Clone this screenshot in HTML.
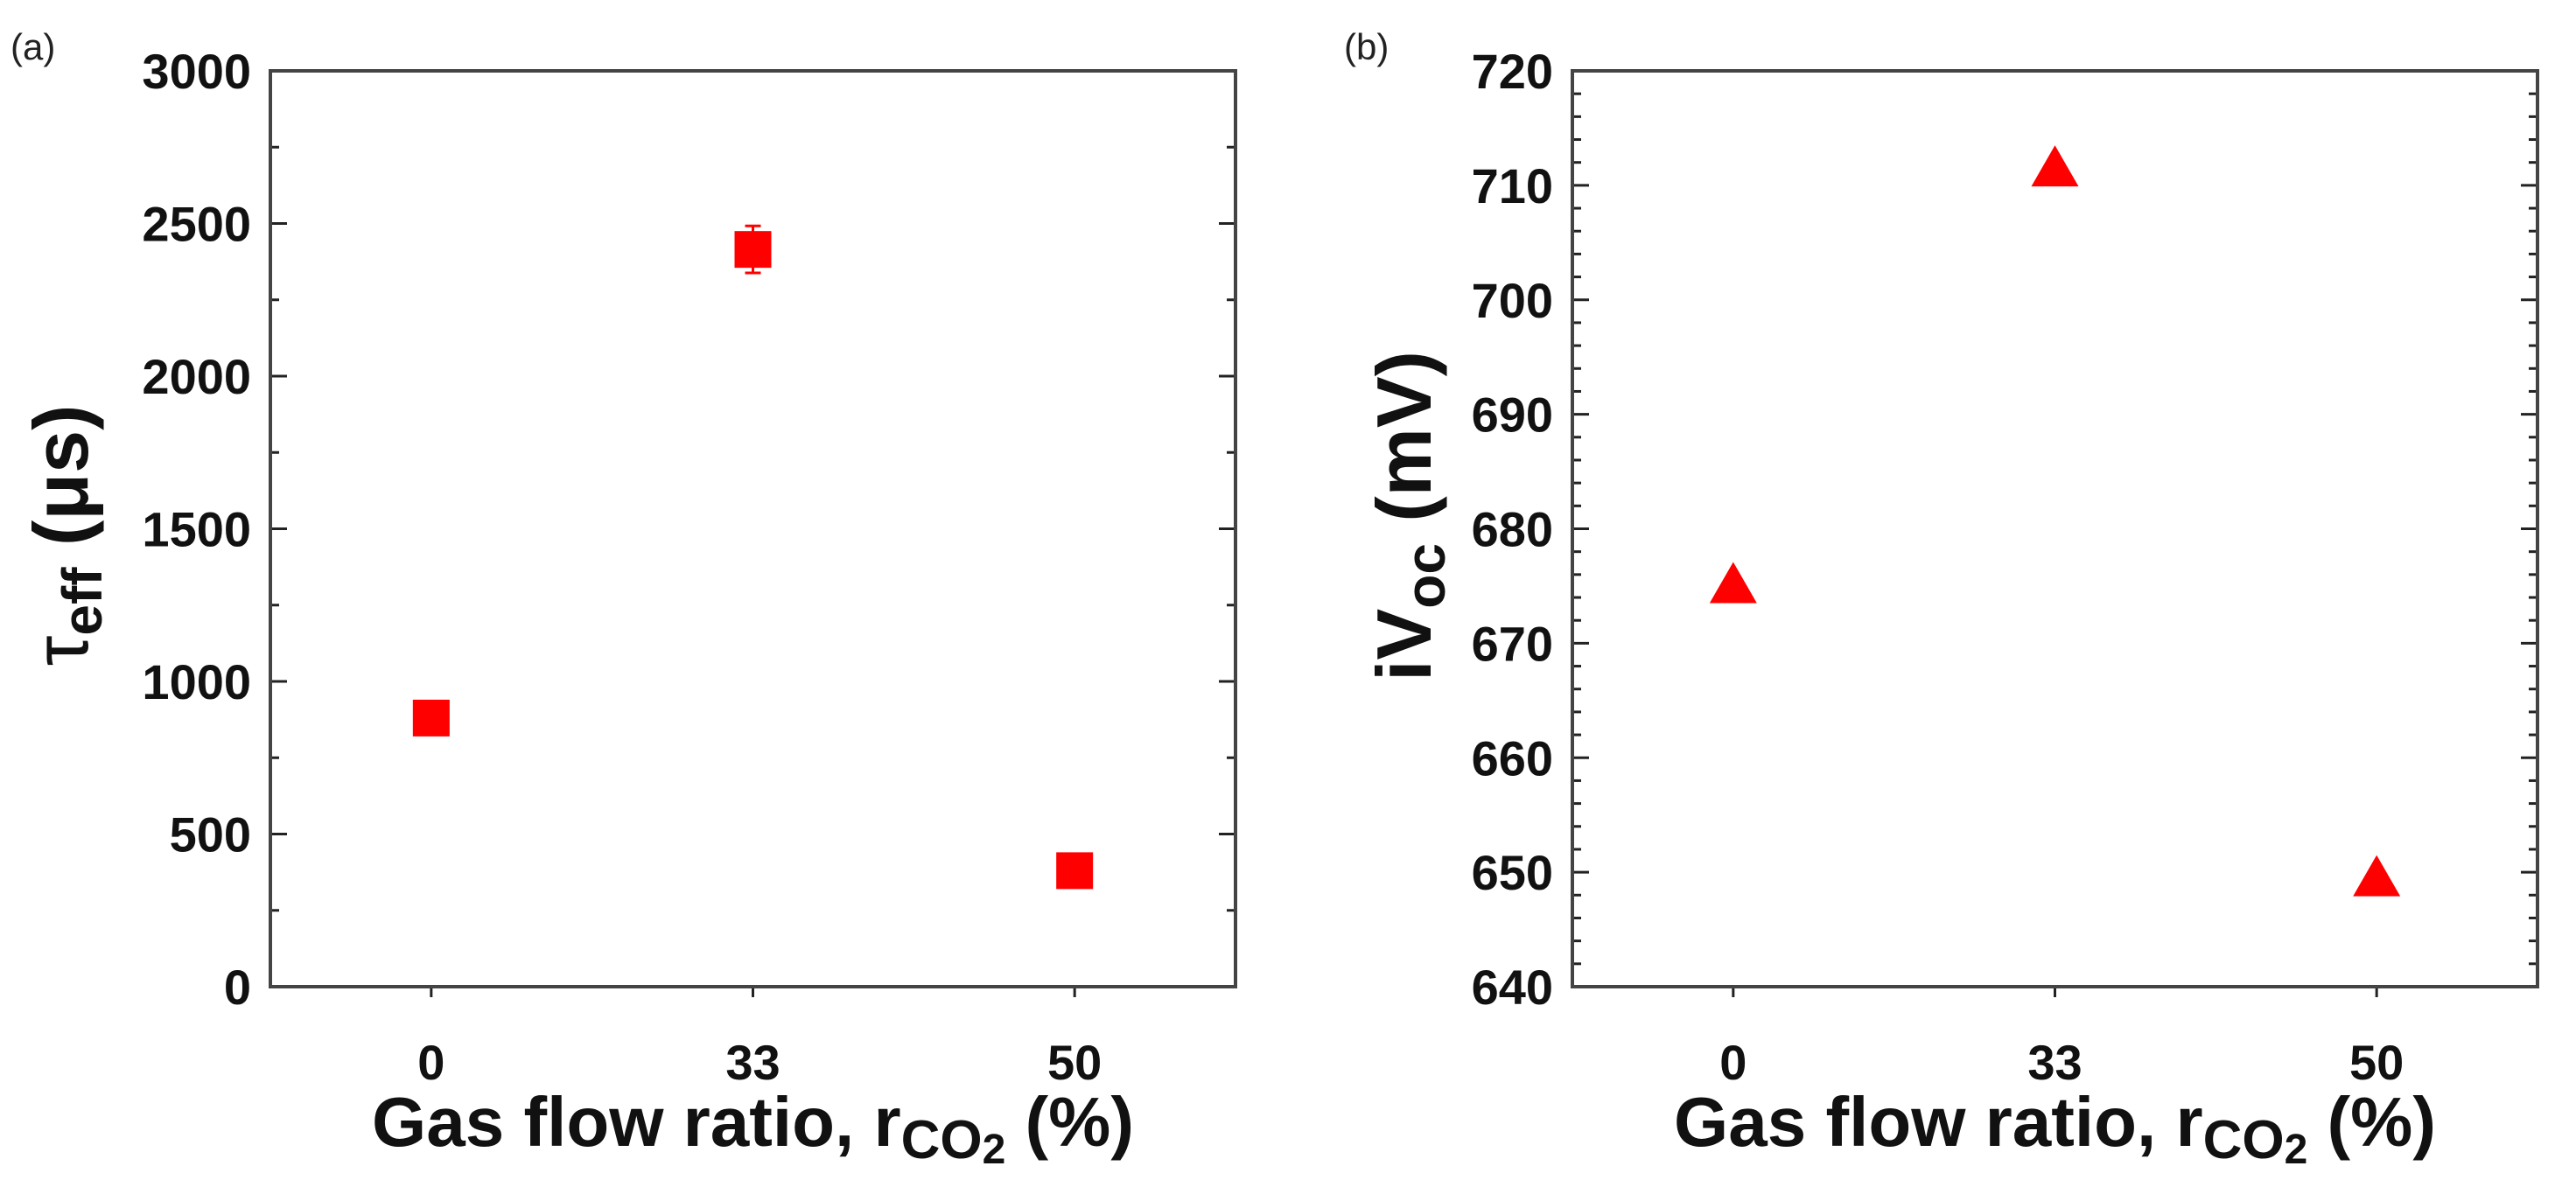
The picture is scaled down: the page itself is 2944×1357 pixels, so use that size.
<!DOCTYPE html>
<html><head><meta charset="utf-8"><style>
html,body{margin:0;padding:0;background:#fff;}
svg text{font-family:"Liberation Sans",Arial,sans-serif;}
</style></head><body>
<svg id="chart" width="2944" height="1352" xmlns="http://www.w3.org/2000/svg"></svg>
<script>
const categories = ["0","33","50"];
const tauValues = [880, 2415, 380];
const tauErrors = [0, 77, 0];
const vocValues = [674.8, 711.2, 649.2];
const tauTicks = [0,500,1000,1500,2000,2500,3000];
const vocTicks = [640,650,660,670,680,690,700,710,720];

const NS="http://www.w3.org/2000/svg";
const svg=document.getElementById('chart');
function mk(tag,attrs,parent){const e=document.createElementNS(NS,tag);for(const k in attrs)e.setAttribute(k,attrs[k]);(parent||svg).appendChild(e);return e;}

function panel(opt){
  const g=mk('g',{});
  
  
  const L=opt.left,R=opt.right,T=81,B=1128;
  const ymin=opt.ticks[0],ymax=opt.ticks[opt.ticks.length-1];
  const ys=v=>B-(v-ymin)/(ymax-ymin)*(B-T);
  const xs=i=>L+(i+0.5)/categories.length*(R-L);
  for(let v=ymin;v<=ymax+1e-9;v+=opt.minor){
    const y=ys(v);const isMajor=opt.ticks.some(t=>Math.abs(t-v)<1e-6);
    const len=isMajor?19:10;
    const t1=mk('line',{x1:L,x2:L+len,y1:y,y2:y,stroke:'#222','stroke-width':3},g);
    
    
    const t2=mk('line',{x1:R,x2:R-len,y1:y,y2:y,stroke:'#222','stroke-width':3},g);
    
    
  }
  opt.ticks.forEach(v=>{
    const t=mk('text',{x:L-22,y:ys(v)+20,'text-anchor':'end','font-size':56,'font-weight':'bold',fill:'#111'},g);
    t.textContent=v;
    
    
  });
  categories.forEach((c,i)=>{
    const x=xs(i);
    const tk=mk('line',{x1:x,x2:x,y1:B,y2:B+12,stroke:'#222','stroke-width':3},g);
    
    
    const t=mk('text',{x:x,y:1234,'text-anchor':'middle','font-size':56,'font-weight':'bold',fill:'#111'},g);
    t.textContent=c;
    
    
  });
  const fr=mk('rect',{x:L,y:T,width:R-L,height:B-T,fill:'none',stroke:'#444','stroke-width':4},g);
  
  
  const xt=mk('text',{x:(L+R)/2,y:1310,'text-anchor':'middle','font-size':80,'font-weight':'bold',fill:'#111'},g);
  
  
  xt.innerHTML='Gas flow ratio, r<tspan font-size="62" dy="14">CO</tspan><tspan font-size="48" dy="6">2</tspan><tspan dy="-20"> (%)</tspan>';
  const yt=mk('text',{x:0,y:0,'text-anchor':'middle','font-size':opt.ytsize,'font-weight':'bold',fill:'#111',transform:`translate(${opt.ytx},${opt.yty}) rotate(-90)`},g);
  
  
  yt.innerHTML=opt.ytitle;
  const pl=mk('text',{x:opt.plx,y:68,'font-size':42,fill:'#222'},g);
  pl.textContent=opt.label;
  
  
  return {g,xs,ys};
}

const a=panel({name:'panel-a',left:309,right:1412,ticks:tauTicks,minor:250,label:'(a)',plx:12,ytx:100,yty:612,ytsize:88,
  ytitle:'<tspan font-weight="normal">τ</tspan><tspan font-size="64" dy="16">eff</tspan><tspan dy="-16"> (μs)</tspan>'});
tauValues.forEach((v,i)=>{
  const x=a.xs(i),y=a.ys(v);
  if(tauErrors[i]>0){
    const e=mk('path',{d:`M${x},${a.ys(v+tauErrors[i])}V${a.ys(v-tauErrors[i])}M${x-9},${a.ys(v+tauErrors[i])}H${x+9}M${x-9},${a.ys(v-tauErrors[i])}H${x+9}`,stroke:'#f00','stroke-width':3,fill:'none'},a.g);
    
    
  }
  const r=mk('rect',{x:x-21,y:y-21,width:42,height:42,fill:'#f00'},a.g);
  
  
});

const b=panel({name:'panel-b',left:1797,right:2900,ticks:vocTicks,minor:2,label:'(b)',plx:1536,ytx:1635,yty:590,ytsize:88,
  ytitle:'iV<tspan font-size="64" dy="16">oc</tspan><tspan dy="-16"> (mV)</tspan>'});
vocValues.forEach((v,i)=>{
  const x=b.xs(i),y=b.ys(v);
  const p=mk('polygon',{points:`${x},${y-30} ${x+27},${y+17} ${x-27},${y+17}`,fill:'#f00'},b.g);
  
  
});
</script>
</body></html>
